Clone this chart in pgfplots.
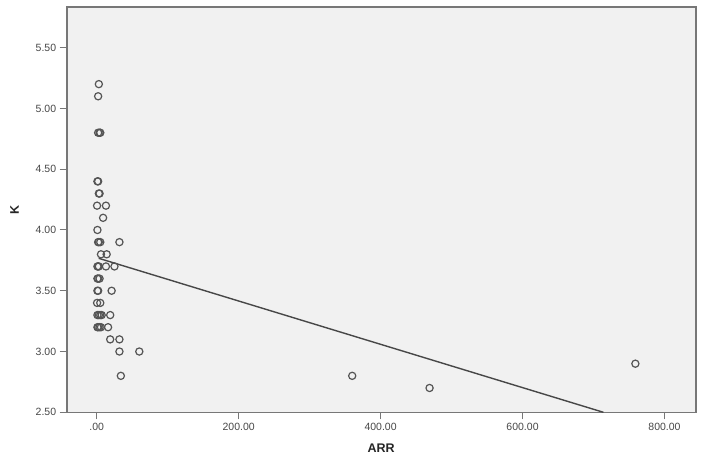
\documentclass[border=0pt]{standalone}
\usepackage{fontspec}
\setmainfont{Liberation Sans}
\usepackage{pgfplots}
\pgfplotsset{compat=1.18}
\definecolor{plotbg}{HTML}{F1F1F1}
\definecolor{frame}{HTML}{777777}
\definecolor{mk}{HTML}{555555}
\begin{document}
\begin{tikzpicture}[x=1pt,y=1pt]
\path[use as bounding box] (0,0) rectangle (704,464);
\begin{axis}[
  at={(66.7pt,51.7pt)}, anchor=south west,
  scale only axis, width=629pt, height=405pt,
  xmin=-42.3, xmax=844, ymin=2.5, ymax=5.832,
  axis background/.style={fill=plotbg},
  axis line style={draw=frame, line width=1.6pt},
  xtick={0,200,400,600,800},
  xticklabels={.00,200.00,400.00,600.00,800.00},
  ytick={2.5,3,3.5,4,4.5,5,5.5},
  yticklabels={2.50,3.00,3.50,4.00,4.50,5.00,5.50},
  tick align=outside, major tick length=7pt,
  tick style={draw=frame, line width=1pt},
  xtick pos=bottom, ytick pos=left,
  tick label style={font=\fontsize{10.5}{12}\selectfont, text=black!72},
  xlabel={\textbf{ARR}}, ylabel={\textbf{K}},
  label style={font=\fontsize{12.5}{14}\selectfont, text=black!85},
  xlabel style={at={(axis description cs:0.5,0)}, anchor=center, yshift=-36pt},
  ylabel style={at={(axis description cs:0,0.5)}, anchor=center, yshift=52pt},
  clip=true,
]
\addplot[only marks, mark=o, mark size=3.6pt, mark options={draw=mk, line width=1.2pt}] coordinates {
(3,5.2) (2,5.1)
(2,4.8) (4,4.8) (5,4.8)
(1,4.4) (2,4.4)
(3,4.3) (4,4.3)
(0.5,4.2) (13,4.2)
(9,4.1)
(1,4.0)
(2,3.9) (3,3.9) (5,3.9) (32,3.9)
(6,3.8) (14,3.8)
(1,3.7) (2,3.7) (3,3.7) (13,3.7) (25,3.7)
(1,3.6) (2,3.6) (4,3.6)
(1,3.5) (2,3.5) (21,3.5)
(0.5,3.4) (5,3.4)
(1,3.3) (3,3.3) (5,3.3) (7,3.3) (19,3.3)
(1,3.2) (2,3.2) (4,3.2) (6,3.2) (16,3.2)
(19,3.1) (32,3.1)
(32,3.0) (60,3.0)
(34,2.8) (360,2.8)
(469,2.7)
(759,2.9)
};
\addplot[draw=black!72, line width=1.4pt] coordinates {(2.8,3.767) (714,2.5)};
\end{axis}
\end{tikzpicture}
\end{document}
